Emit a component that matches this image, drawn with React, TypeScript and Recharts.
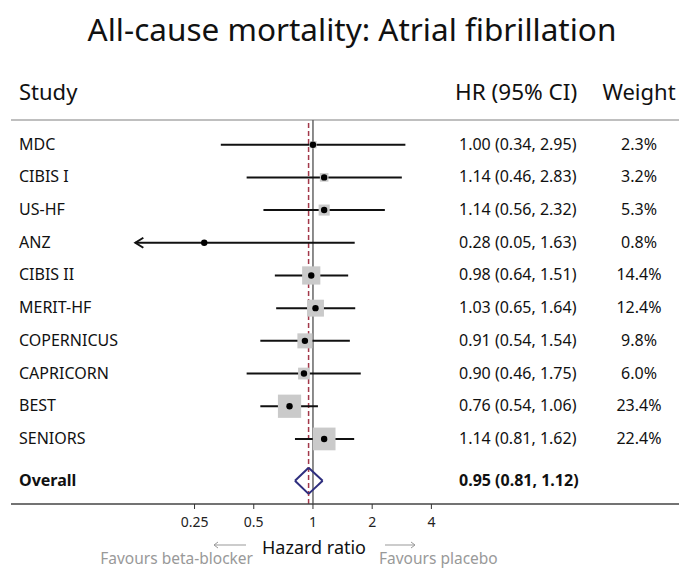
import React from "react";
import { ComposedChart, Scatter, XAxis, YAxis, ReferenceLine } from "recharts";

// study level results (hazard ratio, 95% CI, weight %)
const studies = ["MDC", "CIBIS I", "US-HF", "ANZ", "CIBIS II", "MERIT-HF", "COPERNICUS", "CAPRICORN", "BEST", "SENIORS"];
const hazardRatios = [1.0, 1.14, 1.14, 0.28, 0.98, 1.03, 0.91, 0.9, 0.76, 1.14];
const ciLower = [0.34, 0.46, 0.56, 0.05, 0.64, 0.65, 0.54, 0.46, 0.54, 0.81];
const ciUpper = [2.95, 2.83, 2.32, 1.63, 1.51, 1.64, 1.54, 1.75, 1.06, 1.62];
const weights = [2.3, 3.2, 5.3, 0.8, 14.4, 12.4, 9.8, 6.0, 23.4, 22.4];

const overallLabel = "Overall";
const overallHr = 0.95;
const overallLower = 0.81;
const overallUpper = 1.12;

const xTicks = [0.25, 0.5, 1, 2, 4];

const FONT = "Noto Sans";
const W = 679;
const H = 569;
// log axis laid out so 1 sits under the "Hazard ratio" label
const X_DOMAIN: [number, number] = [0.02916, 72.6];
const CLIP_MIN = 0.125;
const CLIP_MAX = 8;
const Y_DOMAIN: [number, number] = [-0.755, 10.99];
const OVERALL_POS = 10.28;

const fmt = (v: number) => v.toFixed(2);

const rows = studies.map((s, i) => ({
  name: s,
  hr: hazardRatios[i],
  lo: ciLower[i],
  hi: ciUpper[i],
  weight: weights[i],
  pos: i,
}));

const overallRow = [{ name: overallLabel, hr: overallHr, lo: overallLower, hi: overallUpper, weight: null, pos: OVERALL_POS }];

// text columns, placed on each row through the y scale
const LabelShape = (props: any) => {
  const { cy, payload } = props;
  const base = cy + 5;
  const bold = payload.weight == null;
  return (
    <g fontFamily={FONT} fontSize={16} fontWeight={bold ? 700 : 400} fill="#111">
      <text x={19} y={base}>{payload.name}</text>
      <text x={459} y={base}>{`${fmt(payload.hr)} (${fmt(payload.lo)}, ${fmt(payload.hi)})`}</text>
      {!bold && <text x={639} y={base} textAnchor="middle">{`${payload.weight.toFixed(1)}%`}</text>}
    </g>
  );
};

const BoxShape = (props: any) => {
  const { cx, cy, payload } = props;
  const s = Math.sqrt(payload.weight) * 4.8;
  return <rect x={cx - s / 2} y={cy - s / 2} width={s} height={s} fill="#cacaca" />;
};

const DotShape = (props: any) => {
  const { cx, cy } = props;
  return <circle cx={cx} cy={cy} r={3.2} fill="#000" />;
};

const ciShape = (arrowLeft: boolean, arrowRight: boolean) => (p: any) => {
  const { x1, y1, x2, y2 } = p;
  const left = Math.min(x1, x2);
  const right = Math.max(x1, x2);
  return (
    <g stroke="#111" strokeWidth={2} fill="none">
      <line x1={x1} y1={y1} x2={x2} y2={y2} />
      {arrowLeft && <path d={`M${left + 8},${y1 - 5} L${left},${y1} L${left + 8},${y1 + 5}`} />}
      {arrowRight && <path d={`M${right - 8},${y1 - 5} L${right},${y1} L${right - 8},${y1 + 5}`} />}
    </g>
  );
};

export default function App() {
  const dh = 0.4; // half height of the summary diamond, in rows
  return (
    <div style={{ position: "absolute", left: 0, top: 0, width: W, height: H, background: "#fff" }}>
      <ComposedChart width={W} height={H} margin={{ top: 120, right: 0, bottom: 35, left: 11 }}>
        <XAxis
          type="number"
          dataKey="hr"
          scale="log"
          domain={X_DOMAIN}
          allowDataOverflow
          ticks={xTicks}
          interval={0}
          height={30}
          tickSize={5}
          tickMargin={8}
          stroke="#333"
          axisLine={{ stroke: "#444", strokeWidth: 1.5 }}
          tick={{ fontSize: 14, fill: "#222", fontFamily: FONT }}
          tickFormatter={(v: number) => String(v)}
        />
        <YAxis type="number" dataKey="pos" domain={Y_DOMAIN} reversed allowDataOverflow hide />
        <ReferenceLine y={Y_DOMAIN[0]} stroke="#aaa" strokeWidth={1.5} />
        <ReferenceLine x={1} stroke="#666" strokeWidth={1.5} />
        <ReferenceLine x={overallHr} stroke="#a3384a" strokeWidth={1.5} strokeDasharray="5 3" />
        <Scatter data={rows} shape={<BoxShape />} isAnimationActive={false} />
        {rows.map(r => {
          const lo = Math.max(r.lo, CLIP_MIN);
          const hi = Math.min(r.hi, CLIP_MAX);
          return (
            <ReferenceLine
              key={r.name}
              segment={[{ x: lo, y: r.pos }, { x: hi, y: r.pos }]}
              shape={ciShape(r.lo < CLIP_MIN, r.hi > CLIP_MAX)}
            />
          );
        })}
        <Scatter data={rows} shape={<DotShape />} isAnimationActive={false} />
        {[
          [overallLower, OVERALL_POS, overallHr, OVERALL_POS - dh],
          [overallHr, OVERALL_POS - dh, overallUpper, OVERALL_POS],
          [overallUpper, OVERALL_POS, overallHr, OVERALL_POS + dh],
          [overallHr, OVERALL_POS + dh, overallLower, OVERALL_POS],
        ].map((s, i) => (
          <ReferenceLine
            key={`d${i}`}
            segment={[{ x: s[0], y: s[1] }, { x: s[2], y: s[3] }]}
            stroke="#2e2e7e"
            strokeWidth={2}
          />
        ))}
        <Scatter data={[...rows, ...overallRow]} shape={<LabelShape />} isAnimationActive={false} />
      </ComposedChart>
      <svg width={W} height={H} style={{ position: "absolute", left: 0, top: 0, pointerEvents: "none" }} fontFamily={FONT}>
        <text x={352} y={41} fontSize={31.5} textAnchor="middle" fill="#111">All-cause mortality: Atrial fibrillation</text>
        <text x={19} y={100} fontSize={22} fill="#111">Study</text>
        <text x={455} y={100} fontSize={22.5} fill="#111">HR (95% CI)</text>
        <text x={639} y={100} fontSize={22} textAnchor="middle" fill="#111">Weight</text>
        <text x={314} y={554} fontSize={18} textAnchor="middle" fill="#111">Hazard ratio</text>
        <g stroke="#999" strokeWidth={1} fill="none">
          <path d="M214,545 L246,545 M218,542 L214,545 L218,548" />
          <path d="M385,545 L415,545 M411,542 L415,545 L411,548" />
        </g>
        <text x={253} y={564} fontSize={15.5} textAnchor="end" fill="#999">Favours beta-blocker</text>
        <text x={379} y={564} fontSize={15.5} fill="#999">Favours placebo</text>
      </svg>
    </div>
  );
}
